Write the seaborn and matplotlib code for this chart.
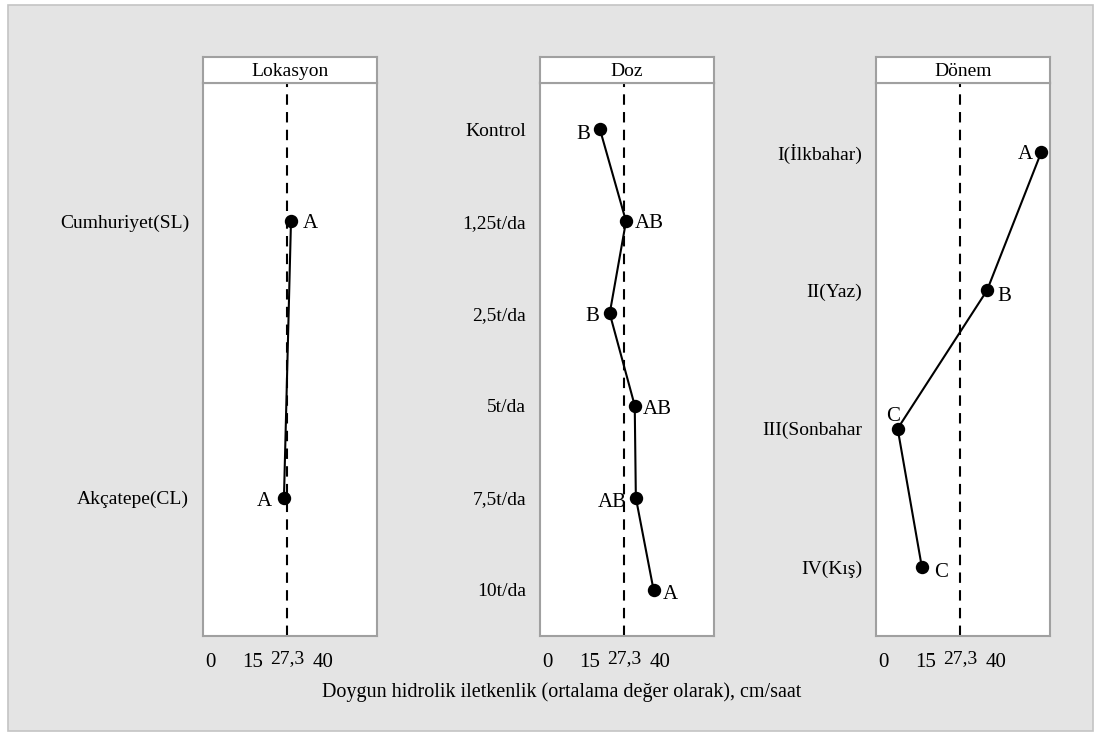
import matplotlib
matplotlib.use("Agg")
import matplotlib.pyplot as plt
import seaborn as sns
import pandas as pd
from matplotlib.patches import Rectangle

sns.set_style("white")
plt.rcParams['font.family'] = ['Liberation Serif', 'DejaVu Serif']
plt.rcParams['text.color'] = 'black'
plt.rcParams['xtick.labelcolor'] = 'black'
plt.rcParams['ytick.labelcolor'] = 'black'

# ---- data ----
lok_cats = ["Cumhuriyet(SL)", "Akçatepe(CL)"]
lok_vals = [28.6, 26.1]
lok_letters = ["A", "A"]

doz_cats = ["Kontrol", "1,25t/da", "2,5t/da", "5t/da", "7,5t/da", "10t/da"]
doz_vals = [18.6, 27.9, 22.1, 31.0, 31.4, 37.7]
doz_letters = ["B", "AB", "B", "AB", "AB", "A"]

don_cats = ["I(İlkbahar)", "II(Yaz)", "III(Sonbahar", "IV(Kış)"]
don_vals = [56.1, 36.8, 5.0, 13.6]
don_letters = ["A", "B", "C", "C"]

titles = ["Lokasyon", "Doz", "Dönem"]
mean_val = 27.3
xticks = [0, 15, 40]
xlabel = "Doygun hidrolik iletkenlik (ortalama değer olarak), cm/saat"

# label placement: (dx px, dy px, ha)
lok_pos = [(12, -2, 'left'), (-12, -4, 'right')]
doz_pos = [(-10, -5, 'right'), (9, -2, 'left'), (-10, -3, 'right'), (8, -4, 'left'), (-9, -5, 'right'), (9, -5, 'left')]
don_pos = [(-8, -2, 'right'), (10, -6, 'left'), (2, 12, 'right'), (12, -6, 'left')]

W, H = 1101, 734
fig = plt.figure(figsize=(W / 100, H / 100), dpi=100)
fig.patch.set_facecolor('white')
fig.patches.append(Rectangle((8 / W, 1 - 731 / H), (1093 - 8) / W, (731 - 5) / H,
                             transform=fig.transFigure, facecolor='#e4e4e4',
                             edgecolor='#c4c4c4', linewidth=1.2, zorder=-10))

gray = '#a0a0a0'
lefts = [203, 540, 876]
pw = 174
top, bottom = 83, 636
head_top = 57

panels = [(lok_cats, lok_vals, lok_letters, lok_pos),
          (doz_cats, doz_vals, doz_letters, doz_pos),
          (don_cats, don_vals, don_letters, don_pos)]

for i, (cats, vals, letters, pos) in enumerate(panels):
    L = lefts[i]
    ax = fig.add_axes([L / W, 1 - bottom / H, pw / W, (bottom - top) / H])
    ax.set_facecolor('white')
    df = pd.DataFrame({"cat": pd.Categorical(cats, categories=cats, ordered=True), "val": vals})
    ax.axvline(mean_val, color='black', linestyle=(0, (5, 3.5)), linewidth=1.5, zorder=1)
    sns.pointplot(data=df, x="val", y="cat", orient='h', color='black', markers='o',
                  errorbar=None, markersize=8.5, linewidth=1.5, ax=ax, zorder=3)
    n = len(cats)
    ax.set_ylim(n - 0.5, -0.5)
    ax.set_xlim(-2.7, 59.2)
    ax.set_xticks(xticks)
    ax.set_xticklabels([str(t) for t in xticks], fontsize=15)
    ax.set_yticks(range(n))
    ax.set_yticklabels(cats, fontsize=14)
    ax.set_xlabel("")
    ax.set_ylabel("")
    ax.tick_params(axis='x', length=6, width=1.2, color=gray, pad=6, labelcolor='black')
    ax.tick_params(axis='y', length=7, width=1.2, color=gray, pad=3, labelcolor='black')
    for s in ax.spines.values():
        s.set_color(gray)
        s.set_linewidth(1.5)
        s.set_visible(True)
    # extra tick label 27,3
    ax.annotate("27,3", xy=(mean_val, 0), xycoords=('data', 'axes fraction'),
                xytext=(0, -10), textcoords='offset points', ha='center', va='top',
                fontsize=14, color='black', annotation_clip=False)
    for j, (v, lt) in enumerate(zip(vals, letters)):
        dx, dy, ha = pos[j]
        ax.annotate(lt, xy=(v, j), xytext=(dx * 0.72, dy * 0.72), textcoords='offset points',
                    ha=ha, va='center', fontsize=15, color='black')
    # header
    hax = fig.add_axes([L / W, 1 - top / H, pw / W, (top - head_top) / H])
    hax.set_facecolor('white')
    hax.set_xticks([])
    hax.set_yticks([])
    for s in hax.spines.values():
        s.set_color(gray)
        s.set_linewidth(1.5)
    hax.text(0.5, 0.45, titles[i], ha='center', va='center', fontsize=14,
             color='black', transform=hax.transAxes)

fig.text(562 / W, 1 - 692 / H, xlabel, ha='center', va='center', fontsize=14.5, color='black')

fig.savefig("out.png", dpi=100, facecolor=fig.get_facecolor())
